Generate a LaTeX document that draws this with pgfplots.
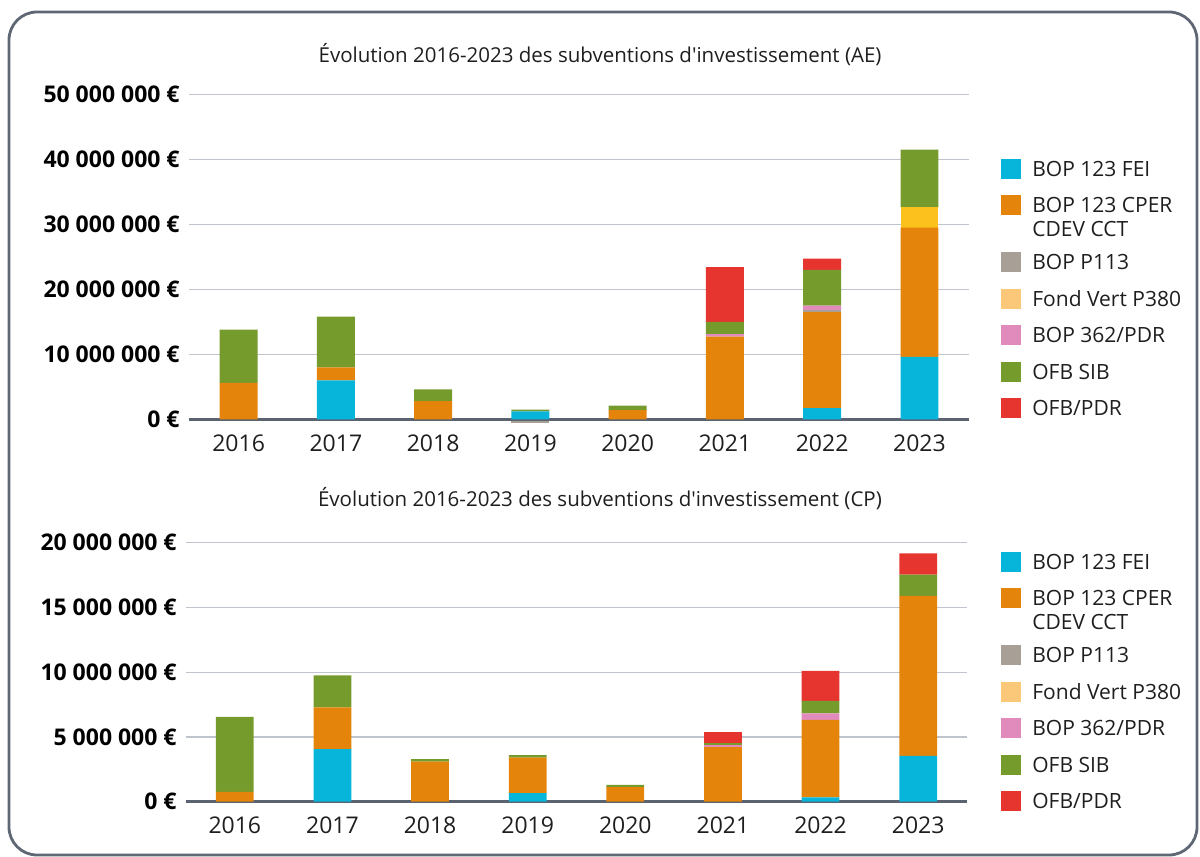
\documentclass[border=0pt]{standalone}
\usepackage{pgfplots}
\pgfplotsset{compat=1.18}
\usepackage{fontspec}
\setmainfont{Open Sans}
\definecolor{cFEI}{HTML}{08B5DA}
\definecolor{cCPER}{HTML}{E4840A}
\definecolor{cP113}{HTML}{A89F97}
\definecolor{cFV}{HTML}{FAC878}
\definecolor{cFVbar}{HTML}{FCC11C}
\definecolor{cPDR}{HTML}{E08BBB}
\definecolor{cSIB}{HTML}{769B2D}
\definecolor{cOFB}{HTML}{E6352F}
\definecolor{gridc}{HTML}{BFC4CD}
\definecolor{zeroc}{HTML}{5B6371}
\definecolor{borderc}{HTML}{5F6775}
\definecolor{textc}{HTML}{1E1E1E}
\pgfplotsset{
  common/.style={
    scale only axis,
    ybar stacked,
    bar width=18.9pt,
    scaled y ticks=false,
    axis line style={draw=none},
    tick style={draw=none},
    ymajorgrids,
    grid style={color=gridc, line width=0.6pt},
    xtick={0,1,2,3,4,5,6,7},
    xticklabels={2016,2017,2018,2019,2020,2021,2022,2023},
    xticklabel style={font=\fontsize{11.5}{13}\selectfont, text=textc, inner sep=0pt, yshift=-4.2pt},
    yticklabel style={font=\fontsize{11.5}{13}\selectfont\bfseries, text=black, inner sep=0pt, xshift=-4.5pt},
    title style={font=\fontsize{10.25}{12}\selectfont, text=textc, anchor=center},
    legend cell align=left,
    legend style={draw=none, fill=none, inner sep=0pt, row sep=5.65pt, column sep=5.5pt,
      font=\fontsize{10.5}{12.6}\selectfont, text=textc, nodes={inner sep=0pt, text depth=}, anchor=north west},
  },
  sqc/.style={legend image code/.code={\fill[#1] (0pt,-3.8pt) rectangle (10pt,6.2pt);}},
  sqd/.style={legend image code/.code={\fill[#1] (0pt,1.35pt) rectangle (10pt,11.35pt);}},
}
\begin{document}
\begin{tikzpicture}
\useasboundingbox (0,0) rectangle (600pt,428.5pt);
\draw[borderc, line width=1.4pt, rounded corners=14pt] (4.5pt,1pt) rectangle (598.5pt,422.5pt);

% negative part (BOP P113, 2019) of the AE chart
\begin{axis}[at={(94.5pt,215.6pt)}, anchor=south west, scale only axis, width=390pt, height=165.75pt,
  xmin=-0.51, xmax=7.51, ymin=-1000000, ymax=50000000, hide axis, ybar, bar width=18.9pt]
\addplot[fill=cP113, draw=none] coordinates {(3,-600000)};
\end{axis}

\begin{axis}[common, at={(94.5pt,215.6pt)}, anchor=south west, width=390pt, height=165.75pt,
  xmin=-0.51, xmax=7.51, ymin=-1000000, ymax=50000000,
  ytick={0,10000000,20000000,30000000,40000000,50000000},
  yticklabels={0~€,10~000~000~€,20~000~000~€,30~000~000~€,40~000~000~€,50~000~000~€},
  title={Évolution 2016-2023 des subventions d\textquotesingle investissement (AE)},
  title style={at={(0.527,1.0824)}},
  legend style={at={(1.041,0.8066)}}]
\addplot[fill=cFEI, draw=none, sqc=cFEI] coordinates {(0,0) (1,6000000) (2,0) (3,1200000) (4,0) (5,0) (6,1700000) (7,9600000)};
\addlegendentry{\strut BOP 123 FEI}
\addplot[fill=cCPER, draw=none, sqd=cCPER] coordinates {(0,5600000) (1,2000000) (2,2800000) (3,0) (4,1400000) (5,12700000) (6,14800000) (7,19900000)};
\addlegendentry{\strut\makebox[0pt][l]{\raisebox{-12pt}[0pt][14pt]{CDEV CCT}}BOP 123 CPER}
\addplot[fill=cP113, draw=none, sqc=cP113] coordinates {(0,0) (1,0) (2,0) (3,0) (4,0) (5,0) (6,300000) (7,0)};
\addlegendentry{\strut BOP P113}
\addplot[fill=cFVbar, draw=none, sqc=cFV] coordinates {(0,0) (1,0) (2,0) (3,0) (4,0) (5,0) (6,0) (7,3100000)};
\addlegendentry{\strut Fond Vert P380}
\addplot[fill=cPDR, draw=none, sqc=cPDR] coordinates {(0,0) (1,0) (2,0) (3,0) (4,0) (5,400000) (6,700000) (7,0)};
\addlegendentry{\strut BOP 362/PDR}
\addplot[fill=cSIB, draw=none, sqc=cSIB] coordinates {(0,8200000) (1,7800000) (2,1800000) (3,300000) (4,700000) (5,1900000) (6,5500000) (7,8900000)};
\addlegendentry{\strut OFB SIB}
\addplot[fill=cOFB, draw=none, sqc=cOFB] coordinates {(0,0) (1,0) (2,0) (3,0) (4,0) (5,8400000) (6,1700000) (7,0)};
\addlegendentry{\strut OFB/PDR}
\draw[zeroc, line width=1.5pt] (axis cs:-0.51,0) -- (axis cs:7.51,0);
\end{axis}

\begin{axis}[common, at={(93pt,24.4pt)}, anchor=south west, width=390.5pt, height=132.85pt,
  xmin=-0.5, xmax=7.5, ymin=-500000, ymax=20000000,
  ytick={0,5000000,10000000,15000000,20000000},
  yticklabels={0~€,5~000~000~€,10~000~000~€,15~000~000~€,20~000~000~€},
  title={Évolution 2016-2023 des subventions d\textquotesingle investissement (CP)},
  title style={at={(0.530,1.1183)}},
  legend style={at={(1.0435,0.9665)}}]
\addplot[fill=cFEI, draw=none, sqc=cFEI] coordinates {(0,0) (1,4050000) (2,0) (3,670000) (4,0) (5,0) (6,330000) (7,3530000)};
\addlegendentry{\strut BOP 123 FEI}
\addplot[fill=cCPER, draw=none, sqd=cCPER] coordinates {(0,750000) (1,3230000) (2,3100000) (3,2740000) (4,1120000) (5,4220000) (6,5990000) (7,12350000)};
\addlegendentry{\strut\makebox[0pt][l]{\raisebox{-12pt}[0pt][14pt]{CDEV CCT}}BOP 123 CPER}
\addplot[fill=cP113, draw=none, sqc=cP113] coordinates {(0,0) (1,0) (2,0) (3,0) (4,0) (5,0) (6,0) (7,0)};
\addlegendentry{\strut BOP P113}
\addplot[fill=cFVbar, draw=none, sqc=cFV] coordinates {(0,0) (1,0) (2,0) (3,0) (4,0) (5,0) (6,0) (7,0)};
\addlegendentry{\strut Fond Vert P380}
\addplot[fill=cPDR, draw=none, sqc=cPDR] coordinates {(0,0) (1,0) (2,0) (3,0) (4,0) (5,150000) (6,490000) (7,0)};
\addlegendentry{\strut BOP 362/PDR}
\addplot[fill=cSIB, draw=none, sqc=cSIB] coordinates {(0,5800000) (1,2470000) (2,180000) (3,180000) (4,180000) (5,150000) (6,980000) (7,1650000)};
\addlegendentry{\strut OFB SIB}
\addplot[fill=cOFB, draw=none, sqc=cOFB] coordinates {(0,0) (1,0) (2,0) (3,0) (4,0) (5,840000) (6,2300000) (7,1630000)};
\addlegendentry{\strut OFB/PDR}
\draw[zeroc, line width=1.5pt] (axis cs:-0.5,0) -- (axis cs:7.5,0);
\end{axis}
\end{tikzpicture}
\end{document}
